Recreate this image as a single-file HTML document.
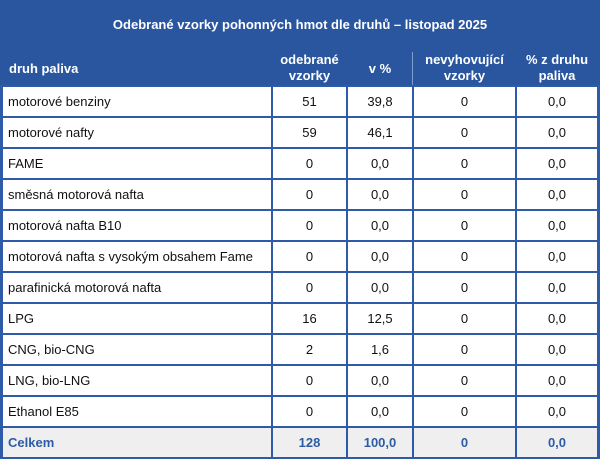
<!DOCTYPE html>
<html><head><meta charset="utf-8"><style>
*{margin:0;padding:0;box-sizing:border-box}
html,body{width:600px;height:462px;background:#fff;overflow:hidden}
body{position:relative;font-family:"Liberation Sans",Arial,sans-serif;font-size:13px;color:#111}
.hd{position:absolute;left:0;top:0;width:600px;height:86px;background:#2A56A0}
.t{position:absolute;left:0;top:17px;width:600px;text-align:center;color:#fff;font-weight:bold;font-size:13px}
.h{position:absolute;color:#fff;font-weight:bold;font-size:13px;line-height:16px;text-align:center}
.vl{position:absolute;background:#2E5AA8;width:2px;top:86px;height:373px}
.hl{position:absolute;background:#2E5AA8;height:2px;left:0;width:600px}
.c{position:absolute;height:31px;line-height:31px;white-space:nowrap}
.n{text-align:center}
.tot{position:absolute;left:0;top:427px;width:600px;height:31px;background:#EFEFEF}
.b{color:#2E5BA6;font-weight:bold}
</style></head><body>
<div class="hd"></div>
<div class="t">Odebrané vzorky pohonných hmot dle druhů – listopad 2025</div>
<div style="position:absolute;left:412px;top:52px;width:1px;height:34px;background:#7F9CCF"></div>
<div class="h" style="left:9px;top:61px;text-align:left">druh paliva</div>
<div class="h" style="left:272px;top:52px;width:75px">odebrané<br>vzorky</div>
<div class="h" style="left:347px;top:61px;width:66px">v %</div>
<div class="h" style="left:413px;top:52px;width:103px">nevyhovující<br>vzorky</div>
<div class="h" style="left:516px;top:52px;width:82px">% z druhu<br>paliva</div>
<div class="tot"></div>

<div class="vl" style="left:0;width:3px"></div>
<div class="vl" style="left:271px"></div>
<div class="vl" style="left:346px"></div>
<div class="vl" style="left:412px"></div>
<div class="vl" style="left:515px"></div>
<div class="vl" style="left:597px;width:3px"></div>

<div class="hl" style="top:85px"></div>
<div class="hl" style="top:116px"></div>
<div class="hl" style="top:147px"></div>
<div class="hl" style="top:178px"></div>
<div class="hl" style="top:209px"></div>
<div class="hl" style="top:240px"></div>
<div class="hl" style="top:271px"></div>
<div class="hl" style="top:302px"></div>
<div class="hl" style="top:333px"></div>
<div class="hl" style="top:364px"></div>
<div class="hl" style="top:395px"></div>
<div class="hl" style="top:426px"></div>
<div class="hl" style="top:457px"></div>

<div id="rows"></div>
<div class="c" style="left:8px;top:86px">motorové benziny</div>
<div class="c n" style="left:273px;width:73px;top:86px">51</div>
<div class="c n" style="left:348px;width:64px;top:86px">39,8</div>
<div class="c n" style="left:414px;width:101px;top:86px">0</div>
<div class="c n" style="left:517px;width:80px;top:86px">0,0</div>

<div class="c" style="left:8px;top:117px">motorové nafty</div>
<div class="c n" style="left:273px;width:73px;top:117px">59</div>
<div class="c n" style="left:348px;width:64px;top:117px">46,1</div>
<div class="c n" style="left:414px;width:101px;top:117px">0</div>
<div class="c n" style="left:517px;width:80px;top:117px">0,0</div>

<div class="c" style="left:8px;top:148px">FAME</div>
<div class="c n" style="left:273px;width:73px;top:148px">0</div>
<div class="c n" style="left:348px;width:64px;top:148px">0,0</div>
<div class="c n" style="left:414px;width:101px;top:148px">0</div>
<div class="c n" style="left:517px;width:80px;top:148px">0,0</div>

<div class="c" style="left:8px;top:179px">směsná motorová nafta</div>
<div class="c n" style="left:273px;width:73px;top:179px">0</div>
<div class="c n" style="left:348px;width:64px;top:179px">0,0</div>
<div class="c n" style="left:414px;width:101px;top:179px">0</div>
<div class="c n" style="left:517px;width:80px;top:179px">0,0</div>

<div class="c" style="left:8px;top:210px">motorová nafta B10</div>
<div class="c n" style="left:273px;width:73px;top:210px">0</div>
<div class="c n" style="left:348px;width:64px;top:210px">0,0</div>
<div class="c n" style="left:414px;width:101px;top:210px">0</div>
<div class="c n" style="left:517px;width:80px;top:210px">0,0</div>

<div class="c" style="left:8px;top:241px">motorová nafta s vysokým obsahem Fame</div>
<div class="c n" style="left:273px;width:73px;top:241px">0</div>
<div class="c n" style="left:348px;width:64px;top:241px">0,0</div>
<div class="c n" style="left:414px;width:101px;top:241px">0</div>
<div class="c n" style="left:517px;width:80px;top:241px">0,0</div>

<div class="c" style="left:8px;top:272px">parafinická motorová nafta</div>
<div class="c n" style="left:273px;width:73px;top:272px">0</div>
<div class="c n" style="left:348px;width:64px;top:272px">0,0</div>
<div class="c n" style="left:414px;width:101px;top:272px">0</div>
<div class="c n" style="left:517px;width:80px;top:272px">0,0</div>

<div class="c" style="left:8px;top:303px">LPG</div>
<div class="c n" style="left:273px;width:73px;top:303px">16</div>
<div class="c n" style="left:348px;width:64px;top:303px">12,5</div>
<div class="c n" style="left:414px;width:101px;top:303px">0</div>
<div class="c n" style="left:517px;width:80px;top:303px">0,0</div>

<div class="c" style="left:8px;top:334px">CNG, bio-CNG</div>
<div class="c n" style="left:273px;width:73px;top:334px">2</div>
<div class="c n" style="left:348px;width:64px;top:334px">1,6</div>
<div class="c n" style="left:414px;width:101px;top:334px">0</div>
<div class="c n" style="left:517px;width:80px;top:334px">0,0</div>

<div class="c" style="left:8px;top:365px">LNG, bio-LNG</div>
<div class="c n" style="left:273px;width:73px;top:365px">0</div>
<div class="c n" style="left:348px;width:64px;top:365px">0,0</div>
<div class="c n" style="left:414px;width:101px;top:365px">0</div>
<div class="c n" style="left:517px;width:80px;top:365px">0,0</div>

<div class="c" style="left:8px;top:396px">Ethanol E85</div>
<div class="c n" style="left:273px;width:73px;top:396px">0</div>
<div class="c n" style="left:348px;width:64px;top:396px">0,0</div>
<div class="c n" style="left:414px;width:101px;top:396px">0</div>
<div class="c n" style="left:517px;width:80px;top:396px">0,0</div>

<div class="c b" style="left:8px;top:427px">Celkem</div>
<div class="c n b" style="left:273px;width:73px;top:427px">128</div>
<div class="c n b" style="left:348px;width:64px;top:427px">100,0</div>
<div class="c n b" style="left:414px;width:101px;top:427px">0</div>
<div class="c n b" style="left:517px;width:80px;top:427px">0,0</div>
</body></html>
